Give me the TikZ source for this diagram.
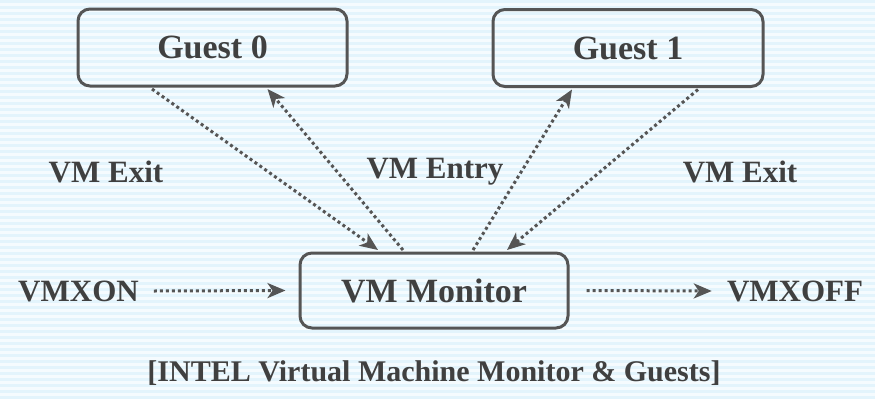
\documentclass[tikz,border=0pt]{standalone}
\usepackage{fontspec}
\setmainfont{Liberation Serif}
\usetikzlibrary{arrows.meta,calc}
\definecolor{stripeA}{HTML}{E3F4FC}
\definecolor{stripeB}{HTML}{F5FBFE}
\definecolor{ink}{HTML}{404040}
\definecolor{edge}{HTML}{555555}
\tikzset{
  box/.style={draw=edge, line width=3pt, rounded corners=12pt, inner sep=0pt,
    font=\fontsize{34}{36}\selectfont\bfseries, text=ink},
  lbl/.style={font=\fontsize{31}{34}\selectfont\bfseries, text=ink, inner sep=0pt},
  flow/.style={draw=edge, line width=3pt, dash pattern=on 3pt off 3pt,
    -{Stealth[length=18pt,width=15pt,inset=5pt]}},
}
\begin{document}
\begin{tikzpicture}[x=1pt,y=-1pt]
  % striped backdrop
  \fill[stripeB] (0,0) rectangle (875,399);
  \foreach \k in {0,...,66} {
    \fill[stripeA] (0,{6*\k}) rectangle (875,{6*\k+3});
  }
  \useasboundingbox (0,0) rectangle (875,399);

  % boxes
  \node[box, minimum width=269pt, minimum height=77pt] (g0) at (212.5,47.5) {Guest 0};
  \node[box, minimum width=270pt, minimum height=77pt] (g1) at (628,48) {Guest 1};
  \node[box, minimum width=268pt, minimum height=75pt] (mon) at (434,290.5) {VM Monitor};

  % labels
  \node[lbl] (exitL) at (106,172) {VM Exit};
  \node[lbl] (entry) at (435,172) {VM Entry};
  \node[lbl] (exitR) at (740,172) {VM Exit};
  \node[lbl] (on) at (78.5,291) {VMXON};
  \node[lbl] (off) at (795,291) {VMXOFF};
  \node[lbl, font=\fontsize{30}{33}\selectfont\bfseries] (cap) at (434,373)
    {[INTEL Virtual Machine Monitor \& Guests]};

  % transitions between guests and monitor
  \draw[flow] ($(g0.south)+(-60.5,1.5)$) -- ($(mon.north)+(-56,-1.5)$);
  \draw[flow] ($(mon.north)+(-31,-1.5)$) -- ($(g0.south)+(55,1.5)$);
  \draw[flow] ($(mon.north)+(39,-1.5)$) -- ($(g1.south)+(-56,1.5)$);
  \draw[flow] ($(g1.south)+(70,1.5)$) -- ($(mon.north)+(73,-1.5)$);

  % enable / disable
  \draw[flow] ($(on.east)+(15,0)$) -- ($(mon.west)+(-13,0)$);
  \draw[flow] ($(mon.east)+(17,0)$) -- ($(off.west)+(-15,0)$);
\end{tikzpicture}
\end{document}
